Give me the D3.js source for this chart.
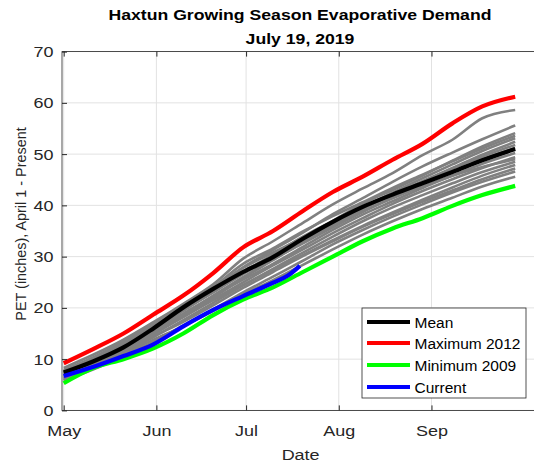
<!DOCTYPE html>
<html>
<head>
<meta charset="utf-8">
<script src="https://cdn.jsdelivr.net/npm/d3@7"></script>
<style>
  body { margin: 0; background: #fff; }
  svg { font-family: "Liberation Sans", Arial, sans-serif; }
</style>
</head>
<body>
<div id="container"></div>
<script>
// sample dates (every 10 days, last point Sep 29)
const dates = ["2019-05-01", "2019-05-11", "2019-05-21", "2019-05-31", "2019-06-10",
               "2019-06-20", "2019-06-30", "2019-07-10", "2019-07-20", "2019-07-30",
               "2019-08-09", "2019-08-19", "2019-08-29", "2019-09-08", "2019-09-18",
               "2019-09-29"];

const meanPET = [7.4, 9.6, 12.3, 16.0, 20.1, 23.7, 27.0, 29.9, 33.5, 36.8, 39.7, 42.1, 44.3, 46.5, 48.8, 51.0];
const max2012 = [9.2, 12.0, 15.0, 18.7, 22.4, 26.8, 31.8, 35.0, 38.9, 42.6, 45.6, 48.9, 52.0, 56.0, 59.3, 61.2];
const min2009 = [5.3, 8.3, 10.0, 12.1, 15.0, 18.6, 21.6, 24.0, 27.0, 30.0, 33.0, 35.5, 37.5, 39.9, 42.0, 43.8];

const currentDates = ["2019-05-01", "2019-05-11", "2019-05-21", "2019-05-31", "2019-06-10",
                      "2019-06-20", "2019-06-30", "2019-07-10", "2019-07-15", "2019-07-19"];
const current = [6.7, 8.5, 10.6, 12.9, 16.4, 19.6, 22.3, 24.9, 26.3, 28.2];

// other years (gray)
const otherYears = [
  [8.3, 10.9, 13.8, 17.2, 20.8, 24.6, 29.6, 33.0, 36.6, 40.2, 43.3, 46.3, 49.8, 52.8, 57.0, 58.6],
  [7.6, 10.2, 13.0, 16.3, 19.8, 23.5, 27.9, 31.3, 34.7, 38.3, 41.4, 44.6, 47.6, 50.3, 52.9, 55.6],
  [6.9, 9.6, 12.5, 15.6, 19.4, 23.1, 26.6, 29.9, 33.5, 37.0, 40.3, 43.0, 45.8, 48.7, 51.5, 54.1],
  [7.9, 10.4, 13.4, 17.0, 20.5, 24.1, 28.6, 31.6, 34.9, 37.9, 40.6, 43.4, 46.0, 48.6, 51.1, 53.6],
  [7.2, 9.9, 12.8, 16.0, 19.9, 23.6, 27.2, 30.1, 33.3, 36.5, 39.6, 42.5, 45.3, 48.0, 50.6, 53.1],
  [6.4, 9.0, 11.9, 15.2, 18.6, 22.0, 25.8, 29.3, 32.8, 36.1, 39.3, 42.0, 44.7, 47.3, 49.9, 52.4],
  [7.7, 10.0, 12.6, 16.2, 19.6, 23.0, 26.9, 30.4, 33.9, 36.9, 39.5, 42.1, 44.6, 47.2, 49.5, 51.8],
  [6.0, 8.7, 11.6, 14.8, 18.5, 22.4, 26.0, 29.5, 32.6, 35.7, 38.7, 41.5, 44.2, 46.6, 49.0, 51.2],
  [7.1, 9.7, 12.2, 15.5, 18.9, 22.3, 25.5, 28.6, 31.9, 35.2, 38.2, 40.8, 43.4, 45.8, 48.1, 50.2],
  [6.6, 9.2, 12.0, 14.9, 18.2, 21.6, 25.0, 28.3, 31.4, 34.6, 37.5, 40.3, 42.8, 45.1, 47.3, 49.4],
  [5.9, 8.4, 11.1, 14.3, 17.6, 21.0, 24.4, 27.6, 30.8, 33.9, 36.9, 39.6, 42.0, 44.3, 46.5, 48.5],
  [6.8, 9.4, 12.0, 15.1, 18.3, 21.5, 24.5, 27.4, 30.3, 33.2, 36.0, 38.6, 41.1, 43.5, 45.8, 47.9],
  [6.2, 8.8, 11.4, 14.4, 17.3, 20.5, 23.9, 27.0, 30.1, 33.0, 35.8, 38.3, 40.7, 42.9, 45.1, 47.2],
  [5.8, 8.0, 10.6, 13.4, 16.6, 19.7, 23.0, 26.1, 29.2, 32.4, 35.2, 37.8, 40.2, 42.5, 44.6, 46.6],
  [6.3, 8.6, 11.0, 13.8, 16.4, 19.4, 22.6, 25.4, 28.4, 31.4, 34.3, 36.9, 39.3, 41.5, 43.7, 45.6],
  [7.4, 10.3, 13.3, 16.6, 20.3, 24.0, 27.8, 30.8, 33.6, 36.3, 38.9, 41.4, 43.7, 45.8, 47.5, 49.0]
];

const monthTicks = ["2019-05-01", "2019-06-01", "2019-07-01", "2019-08-01", "2019-09-01"];
const yTicks = [0, 10, 20, 30, 40, 50, 60, 70];
const legendNames = ["Mean", "Maximum 2012", "Minimum 2009", "Current"];
const legendColors = ["#000000", "#ff0000", "#00ff00", "#0000ff"];

//THE SVG
const w = 534;
const h = 464;
const padL = 62, padR = 540, padT = 51.6, padB = 410.4;
const axisColor = "#262626";
const stretch = 1.16; // text in the picture is a bit wider than tall

const svg = d3.select("#container")
              .append("svg")
              .attr("width", w)
              .attr("height", h);

const parse = d3.utcParse("%Y-%m-%d");

//THE SCALES
const xScale = d3.scaleUtc()
                 .domain([parse("2019-05-01"), parse("2019-10-01")])
                 .range([63.7, 63.7 + 153 * 2.99]);
const yScale = d3.scaleLinear()
                 .domain([0, 70])
                 .range([padB, padT]);

//GRID
const grid = svg.append("g");
grid.selectAll(".vgrid")
    .data(monthTicks.map(parse))
    .enter().append("line")
    .attr("x1", d => xScale(d)).attr("x2", d => xScale(d))
    .attr("y1", padT).attr("y2", padB)
    .attr("stroke", "#e2e2e2").attr("stroke-width", 1);
grid.selectAll(".hgrid")
    .data(yTicks)
    .enter().append("line")
    .attr("x1", padL).attr("x2", padR)
    .attr("y1", d => yScale(d)).attr("y2", d => yScale(d))
    .attr("stroke", "#e2e2e2").attr("stroke-width", 1);

//THE LINES
const line = d3.line()
               .x(d => xScale(d[0]))
               .y(d => yScale(d[1]))
               .curve(d3.curveMonotoneX);
const pts = (ds, vs) => ds.map((d, i) => [parse(d), vs[i]]);

const plot = svg.append("g");
otherYears.forEach(vals => {
  plot.append("path")
      .attr("d", line(pts(dates, vals)))
      .attr("fill", "none")
      .attr("stroke", "#808080")
      .attr("stroke-width", 2.6)
      .attr("stroke-linejoin", "round");
});

const mainSeries = [
  [dates, meanPET, legendColors[0]],
  [dates, max2012, legendColors[1]],
  [dates, min2009, legendColors[2]],
  [currentDates, current, legendColors[3]]
];
mainSeries.forEach(s => {
  plot.append("path")
      .attr("d", line(pts(s[0], s[1])))
      .attr("fill", "none")
      .attr("stroke", s[2])
      .attr("stroke-width", 4.2)
      .attr("stroke-linejoin", "round");
});

//THE AXES
const xAxis = d3.axisBottom(xScale)
                .tickValues(monthTicks.map(parse))
                .tickFormat(d3.utcFormat("%b"))
                .tickSizeInner(-5).tickSizeOuter(0).tickPadding(14.5);
const gx = svg.append("g")
   .attr("transform", `translate(0, ${padB})`)
   .call(xAxis);

const xTop = d3.axisTop(xScale)
               .tickValues(monthTicks.map(parse))
               .tickFormat("")
               .tickSizeInner(-5).tickSizeOuter(0);
const gxt = svg.append("g")
   .attr("transform", `translate(0, ${padT})`)
   .call(xTop);

const yAxis = d3.axisLeft(yScale)
                .tickValues(yTicks)
                .tickSizeInner(-5).tickSizeOuter(0).tickPadding(8.5);
const gy = svg.append("g")
   .attr("transform", `translate(${padL}, 0)`)
   .call(yAxis);

[gx, gxt, gy].forEach(g => {
  g.select(".domain").remove();
  g.selectAll("line").attr("stroke", axisColor);
  g.selectAll("text").attr("fill", axisColor).style("font-size", "15.5px")
   .style("font-family", "'Liberation Sans', Arial, sans-serif")
   .attr("transform", `scale(${stretch},1)`);
});
gy.selectAll("text").attr("x", -8.5 / stretch);

//BOX
svg.append("rect")
   .attr("x", padL).attr("y", padT)
   .attr("width", padR - padL).attr("height", padB - padT)
   .attr("fill", "none")
   .attr("stroke", axisColor)
   .attr("stroke-width", 0.8);

//TITLES
function wideText(x, y, txt, size, weight, color) {
  svg.append("text")
     .attr("transform", `translate(${x}, ${y}) scale(${stretch},1)`)
     .attr("text-anchor", "middle")
     .style("font-size", size + "px").style("font-weight", weight)
     .attr("fill", color)
     .text(txt);
}
wideText(300, 20.4, "Haxtun Growing Season Evaporative Demand", 15.2, "bold", "#000");
wideText(300, 44.3, "July 19, 2019", 15.2, "bold", "#000");
wideText(300.6, 460, "Date", 15.5, "normal", axisColor);

svg.append("text")
   .attr("transform", "translate(26, 224) rotate(-90)")
   .attr("text-anchor", "middle")
   .style("font-size", "14.4px")
   .attr("fill", axisColor)
   .text("PET (inches), April 1 - Present");

//THE LEGEND
const legend = svg.append("g")
   .attr("transform", "translate(362, 308)");
legend.append("rect")
   .attr("width", 164).attr("height", 90)
   .attr("fill", "#fff")
   .attr("stroke", axisColor)
   .attr("stroke-width", 0.8);
const rowY = [14, 35, 57, 79];
legend.selectAll(".lline")
   .data(legendNames)
   .enter().append("line")
   .attr("x1", 5).attr("x2", 48)
   .attr("y1", (d, i) => rowY[i]).attr("y2", (d, i) => rowY[i])
   .attr("stroke", (d, i) => legendColors[i])
   .attr("stroke-width", 4.2);
legend.selectAll(".ltext")
   .data(legendNames)
   .enter().append("text")
   .attr("x", 52.5)
   .attr("y", (d, i) => rowY[i] + 5.5)
   .style("font-size", "15.5px")
   .attr("fill", "#000")
   .text(d => d);
</script>
</body>
</html>
